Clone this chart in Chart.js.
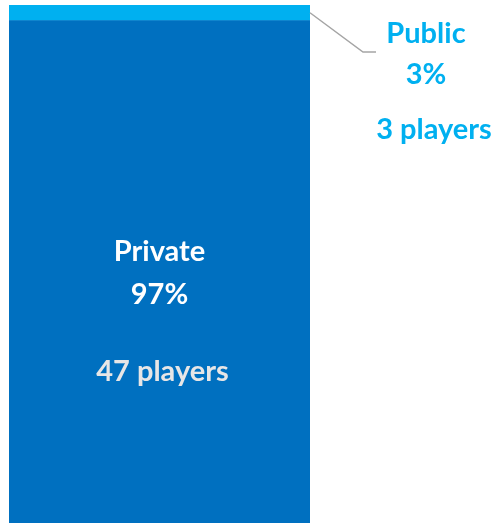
<!DOCTYPE html>
<html lang="en">
<head>
    <meta charset="UTF-8">
    <title>Public vs Private players</title>
    <script src="https://cdn.jsdelivr.net/npm/chart.js"></script>
    <style>
        html, body { margin: 0; padding: 0; background: #fff; }
        #wrap { width: 502px; height: 523px; position: relative; }
    </style>
</head>
<body>
    <div id="wrap"><canvas id="shareChart"></canvas></div>

    <script>
    // Chart data
    const categories = ["Players"];
    const seriesNames = ["Private", "Public"];
    const sharePercent = [97, 3];
    const playerCounts = [47, 3];
    const seriesColors = ["#0070C0", "#00B0F0"];

    // Draws the segment labels and the leader line for the small segment
    const segmentLabels = {
        id: "segmentLabels",
        afterDatasetsDraw(chart) {
            const ctx = chart.ctx;
            ctx.save();
            ctx.textAlign = "center";
            ctx.textBaseline = "middle";
            ctx.font = "bold 29px Lato";

            // Private (inside bar)
            const priv = chart.getDatasetMeta(0).data[0];
            const pcx = priv.x;
            ctx.fillStyle = "#FFFFFF";
            ctx.fillText(seriesNames[0], pcx, 252);
            ctx.fillText(sharePercent[0] + "%", pcx, 295);
            ctx.fillStyle = "#E7E6E6";
            ctx.fillText(playerCounts[0] + " players", pcx + 3, 372);

            // Public (outside, with leader line)
            const pub = chart.getDatasetMeta(1).data[0];
            const sx = pub.x + pub.width / 2;
            const sy = (pub.y + pub.base) / 2;
            ctx.strokeStyle = "#A5A5A5";
            ctx.lineWidth = 1.5;
            ctx.beginPath();
            ctx.moveTo(sx, sy);
            ctx.lineTo(363, 52);
            ctx.lineTo(376, 52);
            ctx.stroke();

            ctx.fillStyle = "#00B0F0";
            ctx.fillText(seriesNames[1], 426, 34);
            ctx.fillText(sharePercent[1] + "%", 426, 75);
            ctx.fillText(playerCounts[1] + " players", 434, 130);
            ctx.restore();
        }
    };

    new Chart(document.getElementById("shareChart"), {
        type: "bar",
        data: {
            labels: categories,
            datasets: seriesNames.map((name, i) => ({
                label: name,
                data: [sharePercent[i]],
                backgroundColor: seriesColors[i],
                borderWidth: 0,
                barPercentage: 1,
                categoryPercentage: 1
            }))
        },
        options: {
            responsive: true,
            maintainAspectRatio: false,
            animation: false,
            layout: { padding: { left: 9, right: 192, top: 5, bottom: 0 } },
            plugins: {
                legend: { display: false },
                tooltip: { enabled: false }
            },
            scales: {
                x: { stacked: true, display: false },
                y: { stacked: true, display: false, min: 0, max: 100 }
            }
        },
        plugins: [segmentLabels]
    });
    </script>
</body>
</html>
